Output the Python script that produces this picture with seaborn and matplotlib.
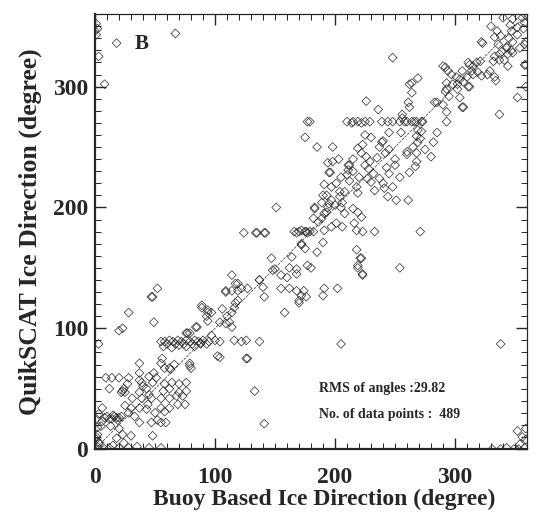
import numpy as np
import pandas as pd
import matplotlib
matplotlib.use("Agg")
import matplotlib.pyplot as plt
import seaborn as sns
from matplotlib.ticker import MultipleLocator

# (buoy direction, QuikSCAT direction) pairs, by region
top_left = [(1, 352), (2, 348), (1, 343), (0, 346), (3, 325), (8, 302), (18, 336), (67, 344)]

top_right = [
    (340, 357), (348, 356), (356, 357), (359, 359), (358, 353), (346, 351), (352, 349), (357, 348),
    (347, 346), (352, 343), (359, 337), (335, 346), (333, 341), (338, 342), (336, 335), (343, 333),
    (348, 337), (322, 337), (339, 329), (344, 327), (347, 330), (333, 325), (337, 322), (341, 322),
    (344, 317), (332, 321), (329, 313), (333, 308), (334, 305), (327, 310), (318, 320), (315, 317),
    (311, 320), (314, 313), (319, 312), (322, 309), (310, 308), (306, 313), (307, 304), (312, 300),
    (301, 308), (297, 310), (292, 316), (290, 317), (294, 313), (298, 302), (302, 298), (293, 298),
    (304, 291), (295, 292), (285, 287), (290, 285), (307, 283), (352, 291), (337, 277), (358, 318),
    (358, 335), (337, 327), (343, 332), (348, 328), (354, 332), (315, 310), (321, 321), (312, 318),
    (304, 306), (311, 300), (293, 303), (302, 302), (292, 296), (306, 283), (283, 287), (293, 279),
    (293, 271), (248, 324), (323, 336), (330, 350), (345, 340), (359, 318), (359, 300),
]

upper_mid = [
    (269, 307), (264, 303), (262, 302), (264, 295), (261, 287), (262, 283), (256, 277), (226, 288),
    (236, 281), (256, 274), (210, 271), (215, 271), (219, 271), (225, 271), (229, 271), (214, 270),
    (222, 270), (239, 271), (244, 271), (248, 271), (254, 271), (258, 271), (260, 271), (264, 271),
    (266, 271), (268, 271), (272, 271), (273, 271), (179, 271), (177, 271), (175, 258), (185, 250),
    (198, 250), (268, 259), (272, 263), (269, 264), (271, 257), (282, 254), (269, 254), (260, 246),
    (260, 244), (268, 245), (268, 238), (267, 234), (262, 229), (254, 225), (250, 235), (243, 233),
    (239, 254), (240, 255), (237, 250), (242, 245), (245, 248), (223, 252), (219, 249), (222, 245),
    (226, 242), (229, 238), (225, 235), (235, 241), (212, 235), (211, 235), (210, 227), (196, 229),
    (194, 237), (195, 229), (211, 231), (215, 230), (227, 224), (230, 221), (237, 224), (240, 220),
    (248, 217), (241, 216), (233, 214), (218, 217), (219, 212), (208, 213), (204, 209), (197, 217),
    (190, 210), (197, 206), (200, 202), (206, 204), (215, 199), (219, 196), (222, 192), (208, 195),
    (205, 200), (194, 200), (191, 195), (189, 191), (183, 200), (186, 188), (176, 180), (197, 184),
    (206, 184), (216, 187), (218, 181), (233, 180), (244, 209), (251, 206), (261, 206), (271, 180),
    (191, 219), (201, 220), (204, 213), (193, 210), (189, 204), (195, 203), (193, 196), (183, 199),
    (182, 191), (201, 187), (191, 181), (223, 180), (250, 240), (245, 228), (232, 228), (228, 232),
    (220, 225), (212, 222), (205, 225), (215, 240), (203, 240), (198, 238), (255, 262), (245, 262),
    (230, 258), (225, 260), (265, 250), (275, 248), (280, 242), (285, 262),
]

middle = [
    (124, 179), (135, 179), (142, 179), (134, 179), (141, 179), (166, 180), (170, 180), (175, 180),
    (179, 180), (168, 179), (172, 181), (177, 179), (182, 180), (172, 169), (172, 170), (190, 171),
    (147, 158), (148, 148), (155, 144), (162, 150), (160, 142), (168, 145), (177, 152), (137, 140),
    (140, 134), (141, 126), (155, 133), (162, 133), (168, 131), (170, 121), (176, 126), (158, 113),
    (151, 200), (164, 159), (168, 149), (150, 149), (180, 150), (218, 165), (221, 158), (219, 150),
    (223, 145), (222, 158), (219, 152), (223, 144), (254, 150), (170, 123), (172, 127), (174, 131),
    (191, 133), (190, 127), (202, 133), (205, 87), (338, 87), (133, 48), (141, 21), (175, 166),
    (185, 163),
]

lower_mid = [
    (114, 144), (119, 137), (117, 137), (109, 131), (109, 130), (114, 131), (119, 131), (122, 133),
    (127, 133), (137, 140), (119, 123), (117, 121), (114, 113), (116, 117), (110, 110), (112, 105),
    (106, 116), (109, 104), (114, 101), (94, 115), (89, 117), (89, 119), (93, 110), (94, 113),
    (97, 113), (94, 106), (85, 101), (84, 101), (97, 94), (76, 96), (79, 96), (77, 96), (104, 105),
    (52, 133), (47, 126), (48, 126), (28, 113), (49, 105), (23, 100), (20, 98), (3, 87), (102, 77),
    (104, 76), (126, 75), (127, 75), (56, 75), (55, 71), (62, 67), (63, 66), (58, 67), (66, 70),
    (79, 71), (80, 67), (79, 69), (37, 71), (37, 63), (76, 55), (49, 63), (51, 59), (45, 60),
]

# the row of QuikSCAT values sitting at 90 degrees
row90_buoy = [55, 58, 62, 65, 69, 72, 76, 79, 83, 86, 90, 95, 100, 104, 116, 122, 126, 137,
              60, 67, 74, 81, 88, 93, 57, 64, 70, 76, 83, 88]
row90_qscat = [89, 89, 90, 89, 90, 89, 90, 89, 90, 89, 90, 89, 90, 89, 90, 89, 90, 89,
               87, 87, 87, 87, 87, 87, 85, 84, 86, 85, 85, 88]

lower_left = [
    (9, 59), (14, 59), (20, 59), (28, 59), (12, 50), (22, 47), (24, 50), (23, 48), (27, 54), (25, 47),
    (37, 57), (39, 55), (40, 52), (37, 47), (43, 50), (48, 55), (45, 45), (47, 42), (39, 42), (31, 42),
    (30, 34), (37, 34), (43, 33), (50, 30), (55, 42), (62, 42), (57, 48), (58, 54), (55, 34), (58, 31),
    (47, 22), (55, 22), (48, 11), (37, 22), (30, 11), (23, 12), (20, 17), (24, 5), (18, 9), (13, 19),
    (6, 34), (3, 29), (6, 23), (10, 27), (14, 25), (18, 26), (20, 26), (16, 27), (12, 25), (22, 27),
    (8, 26), (15, 28), (19, 24), (5, 19), (2, 12), (2, 2), (8, 0), (12, 1), (4, 5), (1, 8), (15, 3),
    (20, 1), (28, 1), (35, 2), (45, 1), (55, 1), (62, 50), (64, 55), (70, 47), (68, 44), (73, 44),
    (70, 54), (69, 37), (75, 37), (62, 34), (76, 48), (59, 22), (52, 24), (44, 37), (25, 36), (28, 30),
    (33, 27), (1, 25), (2, 18), (1, 10), (3, 5),
]

bottom_right = [(352, 15), (359, 17), (354, 4), (356, 10), (349, 0), (353, 0), (358, 1), (338, 0),
                (343, 1), (331, 0), (359, 8)]

rms_angle = 29.82
n_points = 489

pairs = top_left + top_right + upper_mid + middle + lower_mid + lower_left + bottom_right
df = pd.DataFrame(pairs, columns=["buoy", "qscat"])
df = pd.concat([df, pd.DataFrame({"buoy": row90_buoy, "qscat": row90_qscat})], ignore_index=True)

sns.set_style("ticks")
plt.rcParams["font.family"] = ["Liberation Serif", "DejaVu Serif"]
plt.rcParams["font.weight"] = "bold"

fig = plt.figure(figsize=(5.43, 5.24), dpi=100)
ax = fig.add_axes([0.175, 0.143, 0.7956, 0.830])

sns.scatterplot(data=df, x="buoy", y="qscat", marker="D", s=20,
                fc="none", ec="#2a2a2a", linewidth=0.5, ax=ax, legend=False)
ax.axline((0, 0), slope=1, color="#333333", lw=0.5, ls=(0, (4, 1.5)))

ax.set_xlim(0, 360)
ax.set_ylim(0, 360)
ax.xaxis.set_major_locator(MultipleLocator(100))
ax.yaxis.set_major_locator(MultipleLocator(100))
ax.xaxis.set_minor_locator(MultipleLocator(10))
ax.yaxis.set_minor_locator(MultipleLocator(10))
ax.tick_params(which="both", direction="in", top=True, right=True, labelsize=17)
ax.tick_params(which="major", length=8, width=1)
ax.tick_params(which="minor", length=4, width=0.7)
ax.tick_params(axis="x", which="major", pad=13)
ax.tick_params(axis="y", which="major", pad=5)
for lab in ax.get_xticklabels() + ax.get_yticklabels():
    lab.set_fontweight("bold")

for side in ["left", "bottom"]:
    ax.spines[side].set_linewidth(1.6)
for side in ["top", "right"]:
    ax.spines[side].set_linewidth(0.9)

ax.set_xlabel("Buoy Based Ice Direction (degree)", fontsize=17, fontweight="bold")
ax.xaxis.set_label_coords(0.53, -0.092)
ax.set_ylabel("QuikSCAT Ice Direction (degree)", fontsize=18.5, fontweight="bold", labelpad=8)

ax.text(33, 335, "B", fontsize=15, fontweight="bold", va="center")
ax.text(187, 50, f"RMS of angles :{rms_angle:.2f}", fontsize=10, fontweight="bold", va="center")
ax.text(187, 29, f"No. of data points :  {n_points}", fontsize=10, fontweight="bold", va="center")

fig.savefig("out.png", dpi=100)
